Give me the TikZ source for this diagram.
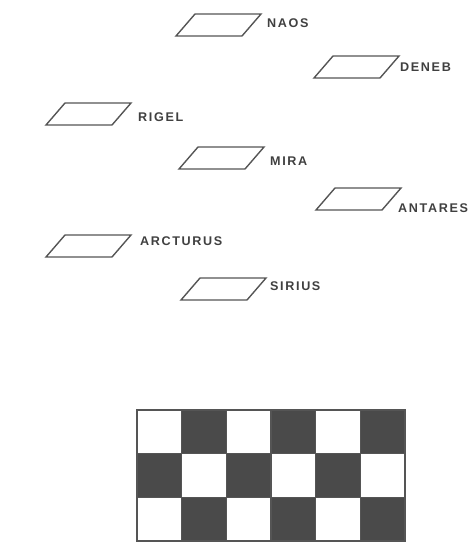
\documentclass[tikz,border=0pt]{standalone}
\usepackage{fontspec}
\newfontfamily\labfont[LetterSpace=13]{Liberation Sans}
\definecolor{inkgray}{HTML}{555555}
\definecolor{darkcell}{HTML}{4A4A4A}
\tikzset{
  parabox/.style={draw=inkgray, line width=1.4pt, line join=miter},
  starlabel/.style={anchor=west, inner sep=0pt, text=black!75, font=\labfont\fontsize{12.6}{14}\selectfont\bfseries},
  cellline/.style={draw=inkgray, line width=1.3pt}
}
\newcommand\parashape[3]{%
  \draw[parabox] (#1,#2) coordinate (#3tl) -- ++(66,0) coordinate (#3tr)
    -- ++(-19,22) coordinate (#3br) -- ++(-66,0) coordinate (#3bl) -- cycle;}
\begin{document}
\begin{tikzpicture}[x=1pt,y=-1pt]
\useasboundingbox (0,0) rectangle (472,547);
% parallelograms
\parashape{195}{14}{naos}
\parashape{333}{56}{deneb}
\parashape{65}{103}{rigel}
\parashape{198}{147}{mira}
\parashape{335}{188}{antares}
\parashape{65}{235}{arcturus}
\parashape{200}{278}{sirius}
% labels
\node[starlabel] (lnaos) at (267,23) {NAOS};
\node[starlabel] (ldeneb) at (400,67) {DENEB};
\node[starlabel] (lrigel) at (138,117) {RIGEL};
\node[starlabel] (lmira) at (270,161) {MIRA};
\node[starlabel] (lantares) at (398,208) {ANTARES};
\node[starlabel] (larcturus) at (140,241) {ARCTURUS};
\node[starlabel] (lsirius) at (270,286) {SIRIUS};
% checkerboard
\foreach \c in {0,...,5}{
  \foreach \r in {0,1,2}{
    \pgfmathtruncatemacro{\parity}{mod(\c+\r,2)}
    \ifnum\parity=1
      \fill[darkcell] ({137+\c*44.67},{410+\r*43.67}) rectangle ++(44.67,43.67);
    \fi
  }
}
\foreach \c in {1,...,5}{
  \draw[cellline] ({137+\c*44.67},410) -- ({137+\c*44.67},541);
}
\foreach \r in {1,2}{
  \draw[cellline] (137,{410+\r*43.67}) -- (405,{410+\r*43.67});
}
\draw[cellline] (137,410) rectangle (405,541);
\end{tikzpicture}
\end{document}
